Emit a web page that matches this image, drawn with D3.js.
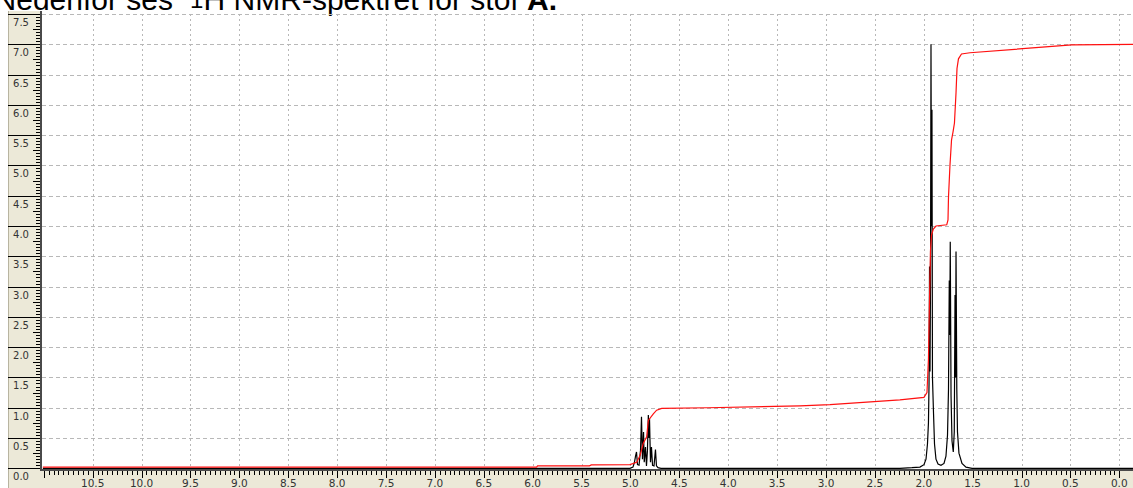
<!DOCTYPE html>
<html>
<head>
<meta charset="utf-8">
<script src="https://cdn.jsdelivr.net/npm/d3@7"></script>
<style>
body { margin: 0; background: #fff; overflow: hidden; }
svg { display: block; }
</style>
</head>
<body>
<div id="vis"></div>
<script>
// tick labels
var xTicks = [10.5, 10.0, 9.5, 9.0, 8.5, 8.0, 7.5, 7.0, 6.5, 6.0, 5.5, 5.0, 4.5, 4.0, 3.5, 3.0, 2.5, 2.0, 1.5, 1.0, 0.5, 0.0];
var yTicks = [0.0, 0.5, 1.0, 1.5, 2.0, 2.5, 3.0, 3.5, 4.0, 4.5, 5.0, 5.5, 6.0, 6.5, 7.0, 7.5];

// spectrum: [ppm, intensity]
var spectrum = [
  [11.01, 0], [5.005, 0],
  // multiplet near 4.85 ppm
  [4.974, 0.02], [4.959, 0.1], [4.948, 0.2], [4.938, 0.27], [4.928, 0.06], [4.912, 0.05],
  [4.897, 0.3], [4.887, 0.85], [4.877, 0.15], [4.866, 0.6], [4.859, 0.1], [4.846, 0.35],
  [4.836, 0.04], [4.826, 0.3], [4.817, 0.88], [4.810, 0.5], [4.805, 0.82], [4.795, 0.1],
  [4.785, 0.35], [4.774, 0.05], [4.759, 0.04], [4.744, 0.31], [4.734, 0.04], [4.718, 0.01],
  [4.688, 0],
  // big peak near 1.93 ppm
  [2.244, 0], [2.121, 0.01], [2.039, 0.02], [1.998, 0.06], [1.977, 0.15], [1.962, 0.4],
  [1.952, 0.75], [1.946, 1.4], [1.941, 3.33], [1.936, 1.6], [1.931, 3.1], [1.926, 7.0],
  [1.921, 4.0], [1.916, 5.92], [1.911, 1.5], [1.900, 0.9], [1.890, 0.4], [1.875, 0.15],
  [1.854, 0.07], [1.824, 0.05], [1.793, 0.08],
  // pair near 1.7 ppm
  [1.773, 0.2], [1.757, 0.55], [1.747, 1.3], [1.739, 3.1], [1.734, 2.2], [1.729, 3.74],
  [1.721, 1.2], [1.711, 0.45], [1.698, 0.27], [1.688, 0.6], [1.680, 2.86], [1.675, 1.5],
  [1.670, 3.58], [1.662, 1.3], [1.655, 0.6], [1.640, 0.25], [1.609, 0.08], [1.568, 0.02],
  [1.506, 0], [-0.14, 0]
];

// integral curve: [ppm, value]
var integral = [
  [11.01, 0.02], [5.96, 0.02], [5.95, 0.04], [5.42, 0.04], [5.40, 0.055], [5.005, 0.06],
  [4.936, 0.1], [4.902, 0.21], [4.869, 0.41], [4.834, 0.52], [4.817, 0.79], [4.766, 0.9],
  [4.732, 0.96], [4.680, 0.99], [4.207, 1.0], [3.266, 1.03], [2.959, 1.05], [2.244, 1.13],
  [1.998, 1.17], [1.967, 1.25], [1.952, 1.8], [1.941, 2.8], [1.931, 3.6], [1.921, 3.85],
  [1.902, 3.95], [1.875, 4.0], [1.765, 4.02], [1.752, 4.1], [1.747, 4.48], [1.732, 5.0],
  [1.716, 5.42], [1.701, 5.55], [1.686, 5.7], [1.670, 6.2], [1.660, 6.6], [1.645, 6.76],
  [1.614, 6.84], [1.527, 6.86], [0.487, 6.99], [-0.14, 7.0]
];

var w = 1133;
var h = 488;

var svg = d3.select("#vis")
  .append("svg")
  .attr("width", w)
  .attr("height", h);

var x = d3.scaleLinear().domain([10.5, 0]).range([92.7, 1119.3]);
var y = d3.scaleLinear().domain([0, 7.5]).range([468.3, 14]);

var plotLeft = 42, plotTop = 11, plotBottom = 469;

// title, cut off at the top like the scan
var titleFont = "'Liberation Sans', Arial, sans-serif";
svg.append("text")
  .attr("x", 173).attr("y", 10)
  .attr("text-anchor", "end")
  .style("font-family", titleFont)
  .style("font-size", "30px")
  .text("Nedenfor ses");
svg.append("text")
  .attr("x", 190).attr("y", 8)
  .style("font-family", titleFont)
  .style("font-size", "24px")
  .text("1");
var title = svg.append("text")
  .attr("x", 557).attr("y", 10)
  .attr("text-anchor", "end")
  .style("font-family", titleFont)
  .style("font-size", "30px");
title.append("tspan").text("H NMR-spektret for stof ");
title.append("tspan").style("font-weight", "bold").text("A.");

// axis panels
svg.append("rect")
  .attr("x", 8).attr("y", plotTop)
  .attr("width", plotLeft - 8).attr("height", h - plotTop)
  .attr("fill", "#ece9d8");
svg.append("rect")
  .attr("x", 8).attr("y", 471)
  .attr("width", w - 8).attr("height", h - 471)
  .attr("fill", "#ece9d8");
svg.append("line")
  .attr("x1", 8.5).attr("x2", 8.5).attr("y1", plotTop).attr("y2", h)
  .attr("stroke", "#b8b4a0");

// grid
var grid = svg.append("g")
  .attr("stroke", "#b8b8b8")
  .attr("stroke-width", 1);
grid.selectAll(".hg")
  .data(yTicks.filter(function(d) { return d > 0; }))
  .enter()
  .append("line")
  .attr("x1", plotLeft)
  .attr("x2", w)
  .attr("y1", function(d) { return Math.round(y(d)) + 0.5; })
  .attr("y2", function(d) { return Math.round(y(d)) + 0.5; })
  .attr("stroke-dasharray", "4,3");
grid.selectAll(".vg")
  .data(xTicks)
  .enter()
  .append("line")
  .attr("x1", function(d) { return Math.round(x(d)) + 0.5; })
  .attr("x2", function(d) { return Math.round(x(d)) + 0.5; })
  .attr("y1", 14)
  .attr("y2", plotBottom)
  .attr("stroke-dasharray", "2,3");

// y axis ruler
var yMinor = d3.range(0, 7.51, 0.05);
svg.append("g")
  .selectAll("line")
  .data(yMinor)
  .enter()
  .append("line")
  .attr("x1", function(d, i) { return i % 10 === 0 ? 8 : (i % 5 === 0 ? 33 : 36); })
  .attr("x2", 40)
  .attr("y1", function(d) { return Math.round(y(d)) + 0.5; })
  .attr("y2", function(d) { return Math.round(y(d)) + 0.5; })
  .attr("stroke", "#000");

svg.append("g")
  .selectAll("text")
  .data(yTicks)
  .enter()
  .append("text")
  .attr("x", 21)
  .attr("y", function(d) { return y(d) + 12; })
  .attr("text-anchor", "middle")
  .style("font-family", "'DejaVu Sans', Verdana, sans-serif")
  .style("font-size", "10px")
  .attr("fill", "#333")
  .text(function(d) { return d3.format(".1f")(d); });

// x axis ruler
var xMinor = d3.range(0, 221).map(function(i) { return i * 0.05; });
svg.append("g")
  .selectAll("line")
  .data(xMinor)
  .enter()
  .append("line")
  .attr("x1", function(d) { return Math.round(x(d)) + 0.5; })
  .attr("x2", function(d) { return Math.round(x(d)) + 0.5; })
  .attr("y1", 471)
  .attr("y2", function(d, i) { return i % 10 === 0 ? 478 : 475; })
  .attr("stroke", "#000");

svg.append("g")
  .selectAll("text")
  .data(xTicks)
  .enter()
  .append("text")
  .attr("x", function(d) { return x(d); })
  .attr("y", 487)
  .attr("text-anchor", "middle")
  .style("font-family", "'DejaVu Sans', Verdana, sans-serif")
  .style("font-size", "10.5px")
  .attr("fill", "#333")
  .text(function(d) { return d3.format(".1f")(d); });

// axis lines
svg.append("rect")
  .attr("x", 40).attr("y", plotTop)
  .attr("width", 2).attr("height", 460)
  .attr("fill", "#4a4a4a");
svg.append("rect")
  .attr("x", 40).attr("y", 469)
  .attr("width", w - 40).attr("height", 2)
  .attr("fill", "#4a4a4a");

// clip to plot area
svg.append("clipPath")
  .attr("id", "plotClip")
  .append("rect")
  .attr("x", plotLeft).attr("y", 0)
  .attr("width", w - plotLeft).attr("height", plotBottom);

var line = d3.line()
  .x(function(d) { return x(d[0]); })
  .y(function(d) { return y(d[1]); });

svg.append("path")
  .datum(spectrum)
  .attr("clip-path", "url(#plotClip)")
  .attr("d", line)
  .attr("fill", "none")
  .attr("stroke", "#000")
  .attr("stroke-width", 1.2);

svg.append("path")
  .datum(integral)
  .attr("clip-path", "url(#plotClip)")
  .attr("d", line)
  .attr("fill", "none")
  .attr("stroke", "#ff1010")
  .attr("stroke-width", 1.2);
</script>
</body>
</html>
